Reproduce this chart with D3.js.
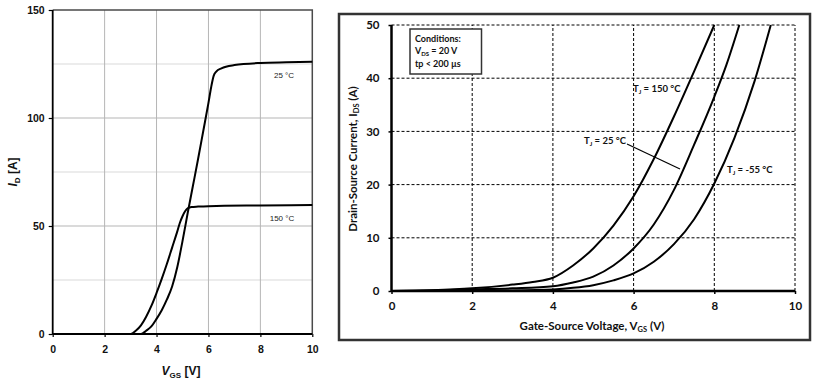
<!DOCTYPE html>
<html>
<head>
<meta charset="utf-8">
<script src="https://cdn.jsdelivr.net/npm/d3@7"></script>
<style>
  html, body { margin: 0; padding: 0; background: #fff; }
  svg { display: block; }
</style>
</head>
<body>
<svg id="chart" width="821" height="382"></svg>
<script>
// ---------- Data: left chart (ID vs VGS) ----------
const leftXTicks = [0, 2, 4, 6, 8, 10];
const leftYTicks = [0, 50, 100, 150];
const leftMinorY = [25, 75, 125];
const left25V = [0, 3.0, 3.4, 3.6, 3.8, 4.0, 4.2, 4.4, 4.6, 4.8, 5.0, 5.2, 5.4, 5.6, 5.8, 6.0, 6.1, 6.2, 6.3, 6.5, 7, 8, 9, 10];
const left25I = [0, 0, 0, 1.5, 3.5, 7, 11, 16, 22, 31, 43, 56, 68.5, 81, 94, 107, 114, 119.5, 121.5, 123, 124.5, 125.5, 125.8, 126];
const left150V = [0, 3.0, 3.2, 3.4, 3.6, 3.8, 4.0, 4.2, 4.4, 4.6, 4.8, 4.9, 5.0, 5.1, 5.2, 5.35, 5.6, 6, 8, 10];
const left150I = [0, 0, 1.5, 4, 8, 13, 19, 25.5, 32.5, 40, 47.5, 51.5, 54.5, 56.8, 58.2, 58.8, 59, 59.2, 59.5, 59.7];

// ---------- Data: right chart (IDS vs VGS) ----------
const rightXTicks = [0, 2, 4, 6, 8, 10];
const rightYTicks = [0, 10, 20, 30, 40, 50];
const r150V = [0, 1, 2, 3, 3.5, 4, 4.5, 5, 5.5, 6, 6.5, 7, 7.5, 8];
const r150I = [0, 0.15, 0.5, 1.2, 1.7, 2.5, 4.8, 8, 12.3, 17.8, 24.8, 32.8, 41.3, 50];
const r25V = [0, 1, 2, 3, 4, 4.5, 5, 5.5, 6, 6.5, 7, 7.5, 8, 8.3, 8.62];
const r25I = [0, 0.1, 0.3, 0.5, 0.9, 1.6, 2.7, 4.8, 8, 12.5, 19, 27.5, 36.5, 42.5, 50];
const rm55V = [0, 2, 3, 4, 4.5, 5, 5.5, 6, 6.5, 7, 7.5, 8, 8.5, 9, 9.4];
const rm55I = [0, 0.05, 0.1, 0.3, 0.6, 1.1, 2, 3.3, 5.5, 8.8, 13.5, 20.2, 28.8, 39.5, 50];

const svg = d3.select("#chart");
const zip = (xs, ys) => xs.map((x, i) => [x, ys[i]]);

// ================= LEFT CHART =================
const L = svg.append("g");
const xL = d3.scaleLinear().domain([0, 10]).range([52.7, 312.3]);
const yL = d3.scaleLinear().domain([0, 150]).range([334, 10]);
const fontL = "'Liberation Sans', Arial, sans-serif";

L.selectAll(".minorY").data(leftMinorY).join("line")
  .attr("x1", xL(0)).attr("x2", xL(10))
  .attr("y1", d => yL(d)).attr("y2", d => yL(d))
  .attr("stroke", "#d9d9d9").attr("stroke-width", 1);
L.selectAll(".majorY").data(leftYTicks.filter(d => d > 0 && d < 150)).join("line")
  .attr("x1", xL(0)).attr("x2", xL(10))
  .attr("y1", d => yL(d)).attr("y2", d => yL(d))
  .attr("stroke", "#b5b5b5").attr("stroke-width", 1);
L.selectAll(".gridX").data(leftXTicks.filter(d => d > 0 && d < 10)).join("line")
  .attr("x1", d => xL(d)).attr("x2", d => xL(d))
  .attr("y1", yL(0)).attr("y2", yL(150))
  .attr("stroke", "#b5b5b5").attr("stroke-width", 1);
L.append("path")
  .attr("d", `M${xL(0)},${yL(150)}H${xL(10)}V${yL(0)}`)
  .attr("fill", "none").attr("stroke", "#4a4a4a").attr("stroke-width", 1.5);

const axL = L.append("g").attr("transform", `translate(${xL(0)},0)`)
  .call(d3.axisLeft(yL).tickValues(leftYTicks).tickSize(4).tickPadding(4));
const axB = L.append("g").attr("transform", `translate(0,${yL(0)})`)
  .call(d3.axisBottom(xL).tickValues(leftXTicks).tickSize(3).tickPadding(9));
[axL, axB].forEach(a => {
  a.select(".domain").attr("stroke", "#000").attr("stroke-width", 1.8);
  a.selectAll(".tick line").attr("stroke", "#000").attr("stroke-width", 1.2);
  a.selectAll(".tick text").attr("fill", "#111").attr("font-family", fontL)
    .attr("font-weight", "bold").attr("font-size", 10.5);
});
axL.select(".domain").attr("d", `M0,${yL(0)}V${yL(150)}`);
axB.select(".domain").attr("d", `M${xL(0)},0H${xL(10)}`);

const lineL = d3.line().x(d => xL(d[0])).y(d => yL(d[1])).curve(d3.curveMonotoneX);
[zip(left25V, left25I), zip(left150V, left150I)].forEach(s => {
  L.append("path").attr("d", lineL(s)).attr("fill", "none")
    .attr("stroke", "#000").attr("stroke-width", 2).attr("stroke-linejoin", "round");
});

L.append("text").attr("x", 284).attr("y", 78).attr("text-anchor", "middle")
  .attr("font-family", fontL).attr("font-size", 8).attr("fill", "#222").text("25 °C");
L.append("text").attr("x", 282).attr("y", 221).attr("text-anchor", "middle")
  .attr("font-family", fontL).attr("font-size", 8).attr("fill", "#222").text("150 °C");

const tY = L.append("text").attr("transform", "translate(17,172) rotate(-90)")
  .attr("text-anchor", "middle").attr("font-family", fontL).attr("font-weight", "bold")
  .attr("font-size", 12).attr("fill", "#111");
tY.append("tspan").attr("font-style", "italic").text("I");
tY.append("tspan").attr("font-size", 8).attr("dy", 3).text("D");
tY.append("tspan").attr("dy", -3).text(" [A]");

const tX = L.append("text").attr("x", 181).attr("y", 375)
  .attr("text-anchor", "middle").attr("font-family", fontL).attr("font-weight", "bold")
  .attr("font-size", 12).attr("fill", "#111");
tX.append("tspan").attr("font-style", "italic").text("V");
tX.append("tspan").attr("font-size", 8).attr("dy", 3).text("GS");
tX.append("tspan").attr("dy", -3).text(" [V]");

// ================= RIGHT CHART =================
const R = svg.append("g");
const fontR = "Lato, 'Open Sans', sans-serif";
const xR = d3.scaleLinear().domain([0, 10]).range([391.5, 795]);
const yR = d3.scaleLinear().domain([0, 50]).range([291, 25]);

R.append("rect").attr("x", 339).attr("y", 14).attr("width", 471).attr("height", 326)
  .attr("fill", "#fff").attr("stroke", "#333").attr("stroke-width", 2.5);

R.selectAll(".gy").data(rightYTicks.filter(d => d > 0)).join("line")
  .attr("x1", xR(0)).attr("x2", xR(10))
  .attr("y1", d => yR(d)).attr("y2", d => yR(d))
  .attr("stroke", "#000").attr("stroke-width", 1).attr("stroke-dasharray", "3,2");
R.selectAll(".gx").data(rightXTicks.filter(d => d > 0)).join("line")
  .attr("x1", d => xR(d)).attr("x2", d => xR(d))
  .attr("y1", yR(0)).attr("y2", yR(50))
  .attr("stroke", "#000").attr("stroke-width", 1).attr("stroke-dasharray", "3,2");

const raxL = R.append("g").attr("transform", `translate(${xR(0)},0)`)
  .call(d3.axisLeft(yR).tickValues(rightYTicks).tickSize(3).tickPadding(9));
const raxB = R.append("g").attr("transform", `translate(0,${yR(0)})`)
  .call(d3.axisBottom(xR).tickValues(rightXTicks).tickSize(3).tickPadding(8));
[raxL, raxB].forEach(a => {
  a.select(".domain").attr("stroke", "#000").attr("stroke-width", 2.5);
  a.selectAll(".tick line").attr("stroke", "#000").attr("stroke-width", 1.5);
  a.selectAll(".tick text").attr("fill", "#111").attr("font-family", fontR)
    .attr("font-weight", "bold").attr("font-size", 11.5);
});
raxL.select(".domain").attr("d", `M0,${yR(0)}V${yR(50)}`);
raxB.select(".domain").attr("d", `M${xR(0)},0H${xR(10)}`);

R.append("rect").attr("x", 410).attr("y", 29).attr("width", 71.5).attr("height", 45)
  .attr("fill", "#fff").attr("stroke", "#333").attr("stroke-width", 1.5);
const condStyle = t => t.attr("font-family", fontR).attr("font-weight", "bold")
  .attr("font-size", 9).attr("fill", "#111");
condStyle(R.append("text").attr("x", 415).attr("y", 41.5)).text("Conditions:");
const c2 = condStyle(R.append("text").attr("x", 415).attr("y", 54));
c2.append("tspan").text("V");
c2.append("tspan").attr("font-size", 6).attr("dy", 1.5).text("DS");
c2.append("tspan").attr("dy", -1.5).text(" = 20 V");
condStyle(R.append("text").attr("x", 415).attr("y", 66.5)).text("tp < 200 µs");

const lineR = d3.line().x(d => xR(d[0])).y(d => yR(d[1])).curve(d3.curveMonotoneX);
[zip(r150V, r150I), zip(r25V, r25I), zip(rm55V, rm55I)].forEach(s => {
  R.append("path").attr("d", lineR(s)).attr("fill", "none")
    .attr("stroke", "#000").attr("stroke-width", 2).attr("stroke-linejoin", "round");
});

R.append("line").attr("x1", 627).attr("y1", 144).attr("x2", 680).attr("y2", 169)
  .attr("stroke", "#000").attr("stroke-width", 1.2);

function tjLabel(x, y, rest) {
  const t = R.append("text").attr("x", x).attr("y", y)
    .attr("font-family", fontR).attr("font-weight", "bold").attr("font-size", 9.5).attr("fill", "#111");
  t.append("tspan").text("T");
  t.append("tspan").attr("font-size", 6).attr("dy", 2).text("J");
  t.append("tspan").attr("dy", -2).text(" = " + rest);
}
tjLabel(633, 92, "150 °C");
tjLabel(584, 144, "25 °C");
tjLabel(727, 173, "-55 °C");

const rtY = R.append("text").attr("transform", "translate(357,159) rotate(-90)")
  .attr("text-anchor", "middle").attr("font-family", fontR).attr("font-weight", "bold")
  .attr("font-size", 11.5).attr("fill", "#111");
rtY.append("tspan").text("Drain-Source Current, I");
rtY.append("tspan").attr("font-size", 7.5).attr("dy", 2).text("DS");
rtY.append("tspan").attr("dy", -2).text(" (A)");

const rtX = R.append("text").attr("x", 592).attr("y", 330)
  .attr("text-anchor", "middle").attr("font-family", fontR).attr("font-weight", "bold")
  .attr("font-size", 11.5).attr("fill", "#111");
rtX.append("tspan").text("Gate-Source Voltage, V");
rtX.append("tspan").attr("font-size", 7.5).attr("dy", 2).text("GS");
rtX.append("tspan").attr("dy", -2).text(" (V)");
</script>
</body>
</html>
